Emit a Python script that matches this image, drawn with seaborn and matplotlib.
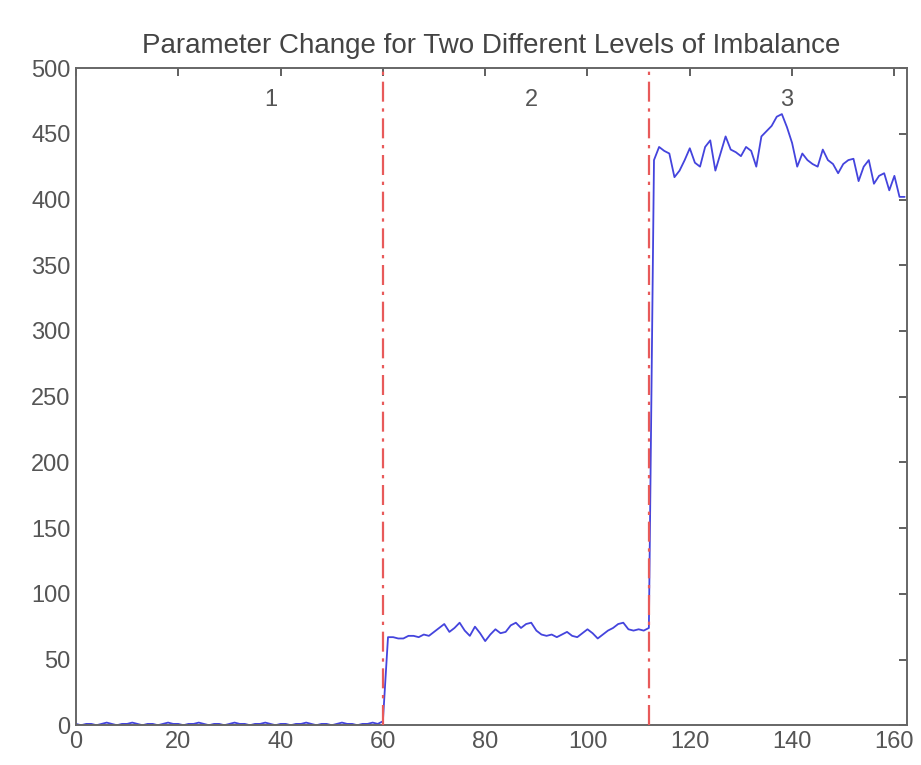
import numpy as np
import pandas as pd
import matplotlib
matplotlib.use("Agg")
import matplotlib.pyplot as plt
import seaborn as sns

# ---- data ----
region1 = [1, 0, 1, 1, 0, 1, 2, 1, 0, 1, 1, 2, 1, 0, 1, 1, 0, 1, 2, 1,
           1, 0, 1, 1, 2, 1, 0, 1, 1, 0, 1, 2, 1, 1, 0, 1, 1, 2, 1, 0,
           1, 1, 0, 1, 1, 2, 1, 0, 1, 1, 0, 1, 2, 1, 1, 0, 1, 1, 2, 1]
ramp = [3, 67]
region2 = [67, 66, 66, 68, 68, 67, 69, 68, 71, 74, 77, 71, 74, 78, 72, 68, 75,
           70, 64, 69, 73, 70, 71, 76, 78, 74, 77, 78, 72, 69, 68, 69, 67, 69,
           71, 68, 67, 70, 73, 70, 66, 69, 72, 74, 77, 78, 73, 72, 73, 72, 74]
region3 = [430, 440, 437, 435, 417, 422, 430, 439, 428, 425, 440, 445, 422,
           435, 448, 438, 436, 433, 440, 437, 425, 448, 452, 456, 463, 465,
           455, 443, 425, 435, 430, 427, 425, 438, 430, 427, 420, 427, 430,
           431, 414, 425, 430, 412, 418, 420, 407, 418, 402, 402]
values = region1 + ramp + region2 + region3
steps = list(range(len(values)))

change_points = [60, 112]
region_labels = ["1", "2", "3"]
region_label_x = [38, 89, 139]
region_label_y = [476, 476, 476]

title = "Parameter Change for Two Different Levels of Imbalance"
xticks = [0, 20, 40, 60, 80, 100, 120, 140, 160]
yticks = [0, 50, 100, 150, 200, 250, 300, 350, 400, 450, 500]

df = pd.DataFrame({"step": steps, "value": values})

# ---- style ----
sns.set_theme(style="white")
plt.rcParams["font.family"] = ["Liberation Sans", "DejaVu Sans"]
plt.rcParams["xtick.direction"] = "in"
plt.rcParams["ytick.direction"] = "in"

fig = plt.figure(figsize=(9.21, 7.65), dpi=100)
ax = fig.add_axes([0.0825, 0.052, 0.9025, 0.859])

sns.lineplot(data=df, x="step", y="value", ax=ax, color="#4444dd",
             linewidth=1.3, estimator=None)

for cp in change_points:
    ax.axvline(cp, color="#e85a5a", linestyle=(0, (9, 3, 1.5, 3)),
               linewidth=1.6, zorder=3)

for lab, lx, ly in zip(region_labels, region_label_x, region_label_y):
    ax.text(lx, ly, lab, ha="center", va="center", fontsize=17, color="#555555")

ax.set_xlim(0, 162.5)
ax.set_ylim(0, 500)
ax.set_xticks(xticks)
ax.set_yticks(yticks)
ax.set_xticklabels([str(t) for t in xticks])
ax.set_yticklabels([str(t) for t in yticks])
ax.set_xlabel("")
ax.set_ylabel("")
ax.tick_params(axis="both", which="both", direction="in", length=6, width=1.2,
               colors="#444444", labelsize=17, labelcolor="#555555",
               top=True, right=True, pad=4)
for sp in ax.spines.values():
    sp.set_visible(True)
    sp.set_color("#666666")
    sp.set_linewidth(1.4)

ax.set_title(title, fontsize=20, color="#444444", pad=11)

fig.savefig("out.png", dpi=100)
